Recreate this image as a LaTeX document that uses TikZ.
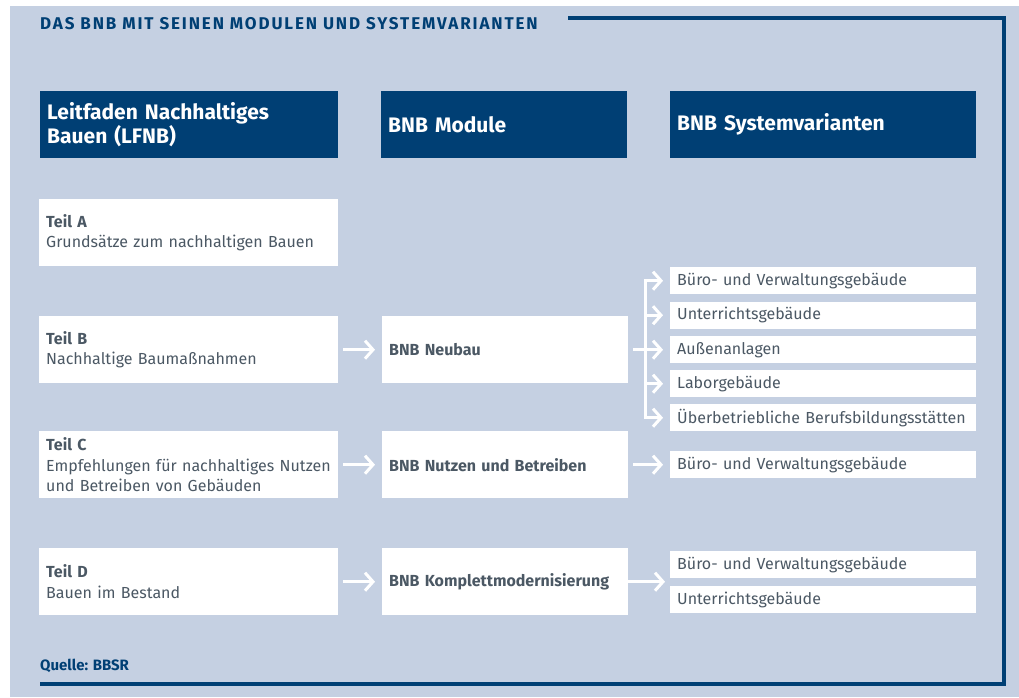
\documentclass[tikz,border=0pt]{standalone}
\usepackage{fontspec}
\setmainfont{Fira Sans}
\newfontfamily\titelfont[LetterSpace = 11]{Fira Sans}
\usetikzlibrary{arrows.meta}
\definecolor{bnbback}{HTML}{C5D0E2}
\definecolor{bnbblue}{HTML}{003F74}
\definecolor{bnbtext}{HTML}{4B5864}
\tikzset{
  headbox/.style = {fill = bnbblue, text = white, anchor = north west, align = left,
    inner xsep = 7pt, inner ysep = 0pt, minimum height = 67pt,
    font = \fontsize{21}{24}\selectfont\bfseries},
  whitebox/.style = {fill = white, text = bnbtext, anchor = north west, align = left,
    inner xsep = 7pt, inner ysep = 0pt, font = \fontsize{16}{20.5}\selectfont},
  teilbox/.style = {whitebox, text width = 285pt, minimum height = 67pt},
  modbox/.style = {whitebox, text width = 232pt, minimum height = 67pt, font = \fontsize{16}{20.5}\selectfont\bfseries},
  varbox/.style = {whitebox, text width = 292pt, minimum height = 27pt},
  whitearrow/.style = {draw = white, line width = 3pt, -{Straight Barb[length = 8pt, width = 18pt]}}
}
\begin{document}
\begin{tikzpicture}[x = 1pt, y = -1pt]
  \useasboundingbox[fill = white] (0, 0) rectangle (1019, 697);
  \fill[bnbback] (10, 6) rectangle (1019, 697);
  \draw[bnbblue, line width = 3.5pt] (568, 18) -- (1004, 18) -- (1004, 684) -- (40, 684);
  \node[anchor = west, text = bnbblue, font = \titelfont\fontsize{17}{19}\selectfont\bfseries, inner sep = 0pt] (titel) at (40, 24) {DAS BNB MIT SEINEN MODULEN UND SYSTEMVARIANTEN};
  \node[anchor = west, text = bnbblue, font = \fontsize{15}{17}\selectfont\bfseries, inner sep = 0pt] (quelle) at (40, 666) {Quelle: BBSR};

  \node[headbox, text width = 284pt] (lfnb) at (40, 91) {Leitfaden Nachhaltiges\\Bauen (LFNB)};
  \node[headbox, text width = 232pt] (module) at (381, 91) {BNB Module};
  \node[headbox, text width = 292pt] (varianten) at (670, 91) {BNB Systemvarianten};

  \node[teilbox] (teilA) at (39, 199) {\textbf{Teil A}\\Grundsätze zum nachhaltigen Bauen};
  \node[teilbox] (teilB) at (39, 316) {\textbf{Teil B}\\Nachhaltige Baumaßnahmen};
  \node[teilbox] (teilC) at (39, 431) {\textbf{Teil C}\\Empfehlungen für nachhaltiges Nutzen\\und Betreiben von Gebäuden};
  \node[teilbox] (teilD) at (39, 548) {\textbf{Teil D}\\Bauen im Bestand};

  \node[modbox] (neubau) at (382, 316) {BNB Neubau};
  \node[modbox] (nutzen) at (382, 431) {BNB Nutzen und Betreiben};
  \node[modbox] (komplett) at (382, 548) {BNB Komplettmodernisierung};

  \node[varbox] (v1) at (670, 267) {Büro- und Verwaltungsgebäude};
  \node[varbox] (v2) at (670, 301.5) {Unterrichtsgebäude};
  \node[varbox] (v3) at (670, 336) {Außenanlagen};
  \node[varbox] (v4) at (670, 370) {Laborgebäude};
  \node[varbox] (v5) at (670, 404) {Überbetriebliche Berufsbildungsstätten};
  \node[varbox] (v6) at (670, 451) {Büro- und Verwaltungsgebäude};
  \node[varbox] (v7) at (670, 551) {Büro- und Verwaltungsgebäude};
  \node[varbox] (v8) at (670, 586) {Unterrichtsgebäude};

  \draw[whitearrow, shorten <= 5pt, shorten >= 7pt] (teilB) -- (neubau);
  \draw[whitearrow, shorten <= 5pt, shorten >= 7pt] (teilC) -- (nutzen);
  \draw[whitearrow, shorten <= 5pt, shorten >= 7pt] (teilD) -- (komplett);

  \coordinate (gabel) at (645, 0);
  \draw[white, line width = 3pt, shorten <= 5pt] (neubau.east) -- (gabel |- neubau.east);
  \draw[white, line width = 3pt, line cap = rect] (gabel |- v1) -- (gabel |- v5);
  \foreach \v in {v1, v2, v3, v4, v5}
    \draw[whitearrow, shorten >= 7pt] (gabel |- \v) -- (\v.west);
  \draw[whitearrow, shorten <= 5pt, shorten >= 7pt] (nutzen) -- (v6);
  \draw[whitearrow, shorten >= 5pt] (komplett) -- (komplett -| v7.west);
\end{tikzpicture}
\end{document}
